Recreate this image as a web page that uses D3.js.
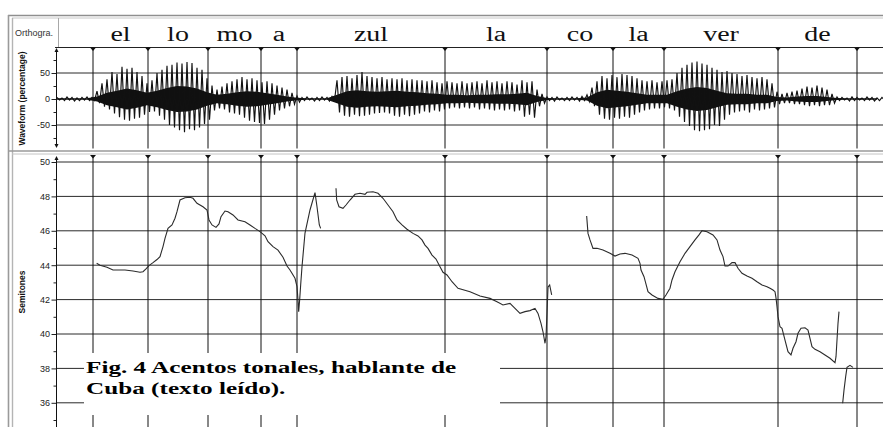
<!DOCTYPE html>
<html>
<head>
<meta charset="utf-8">
<script src="https://cdn.jsdelivr.net/npm/d3@7"></script>
<style>
  html, body { margin: 0; padding: 0; background: #ffffff; }
  svg { display: block; }
</style>
</head>
<body>
<svg id="chart" width="883" height="427"></svg>
<script>
// ---- Orthographic tier: syllables and their boundaries (ms) ----
const syllables = ["el", "lo", "mo", "a", "zul", "la", "co", "la", "ver", "de"];
const boundariesMs = [108, 273, 453, 612, 720, 1164, 1470, 1668, 1821, 2163, 2400];

// ---- Axis ticks ----
const waveTicks = [50, 0, -50];
const waveMinorTicks = [75, 25, -25, -75];
const waveGrid = [50, -50];
const pitchTicks = [50, 48, 46, 44, 42, 40, 38, 36];
const pitchMinorTicks = [49, 47, 45, 43, 41, 39, 37, 35];

// ---- Waveform (percentage): positive / negative peaks every 15 ms ----
const waveStepMs = 15;
const wavePeakHi = [
  3, 2, 4, 3, 2, 3, 4, 3,
  15, 30, 38, 52, 48, 62, 58, 60,
  52, 44, 30, 36, 50, 56, 64, 66,
  70, 68, 71, 69, 60, 56, 40, 26,
  18, 24, 30, 34, 38, 42, 38, 40,
  36, 32, 34, 30, 26, 22, 18, 12,
  6, 3, 4, 2, 3, 4, 3, 5,
  36, 42, 44, 40, 46, 52, 44, 42,
  40, 42, 38, 40, 38, 40, 36, 38,
  36, 36, 34, 36, 32, 30, 34, 32,
  30, 34, 30, 32, 34, 30, 36, 32,
  34, 30, 34, 32, 28, 36, 32, 34,
  18, 10, 4, 3, 4, 2, 3, 4,
  3, 5, 8, 22, 34, 44, 40, 46,
  42, 48, 46, 44, 40, 36, 34, 36,
  32, 34, 36, 38, 50, 60, 66, 70,
  72, 68, 66, 60, 56, 52, 54, 50,
  48, 44, 46, 42, 40, 42, 38, 30,
  14, 10, 12, 14, 16, 20, 24, 22,
  26, 22, 18, 10, 4, 3, 2, 4,
  3, 2, 4, 3, 2, 3
];
const wavePeakLo = [
  -2, -3, -2, -4, -3, -2, -3, -3,
  -8, -15, -20, -28, -35, -40, -42, -38,
  -36, -30, -25, -24, -32, -40, -50, -55,
  -60, -64, -58, -60, -55, -48, -40, -22,
  -18, -20, -26, -28, -30, -36, -42, -44,
  -46, -48, -40, -30, -22, -18, -14, -10,
  -6, -3, -2, -4, -3, -2, -4, -3,
  -26, -32, -34, -30, -33, -32, -30, -28,
  -27, -26, -28, -32, -34, -30, -33, -30,
  -28, -24, -26, -22, -24, -20, -18, -16,
  -18, -16, -18, -16, -20, -18, -20, -22,
  -20, -22, -20, -24, -22, -34, -30, -36,
  -14, -8, -3, -4, -2, -3, -3, -2,
  -4, -3, -5, -14, -30, -38, -40, -36,
  -38, -34, -36, -30, -26, -22, -20, -18,
  -18, -16, -18, -22, -34, -44, -52, -60,
  -62, -60, -58, -50, -52, -40, -30, -26,
  -24, -22, -26, -20, -22, -20, -18, -16,
  -10, -8, -8, -10, -10, -12, -14, -12,
  -14, -12, -12, -8, -3, -2, -4, -3,
  -2, -3, -2, -4, -3, -2
];
// dense core of the signal (symmetric amplitude) every 30 ms
const waveCoreStepMs = 30;
const waveCore = [
  1.5, 1.5, 1.5, 1.5,
  5, 12, 16, 20, 17, 12, 16, 21, 25, 24, 20, 13, 8, 10, 13, 15, 14, 11, 8, 5, 2.5,
  1.5, 1.5, 1.5,
  8, 15, 17, 15, 14, 15, 16, 14, 13, 11, 10, 8, 8, 7, 8, 8, 9, 9, 10, 12, 6, 2,
  1.5, 1.5, 1.5,
  3, 13, 18, 16, 14, 11, 8, 8, 8, 15, 20, 23, 21, 16, 11, 10, 10, 8, 8, 4, 3, 5, 6, 6, 4, 2,
  1.5, 1.5, 1.5, 1.5
];

// ---- F0 contour in semitones: [time ms, semitones] per voiced stretch ----
const pitchSeg1 = [[119,44.11],[129,44.0],[150,43.88],[168,43.72],[204,43.72],[228,43.66],[249,43.59],[258,43.62],[267,43.78],[276,43.98],[288,44.15],[300,44.33],[309,44.5],[318,45.08],[324,45.56],[333,46.14],[345,46.34],[354,46.73],[360,47.11],[369,47.79],[384,47.92],[399,47.95],[408,47.89],[420,47.6],[438,47.4],[450,47.21],[456,46.63],[465,46.34],[477,46.2],[486,46.4],[492,46.82],[504,47.15],[513,47.11],[528,46.92],[543,46.63],[564,46.53],[579,46.34],[594,46.14],[609,45.95],[624,45.71],[633,45.37],[648,45.08],[663,44.88],[678,44.46],[690,43.95],[699,43.72],[714,43.24],[720,42.75],[723,41.98],[725,41.3],[728,42.0],[731,42.85],[735,43.91],[744,45.87],[759,47.21],[774,48.22],[780,47.4],[787,46.34],[791,46.14]];
const pitchSeg2 = [[837,48.47],[839,47.79],[846,47.4],[858,47.31],[867,47.5],[879,47.79],[894,48.12],[909,48.18],[924,48.12],[930,48.24],[948,48.27],[963,48.18],[978,47.89],[993,47.5],[1008,47.11],[1020,46.63],[1035,46.34],[1050,46.09],[1068,45.85],[1083,45.7],[1095,45.47],[1104,45.17],[1113,44.98],[1125,44.59],[1137,44.36],[1149,43.91],[1158,43.59],[1170,43.43],[1185,43.04],[1203,42.66],[1239,42.46],[1269,42.21],[1299,42.07],[1320,41.88],[1338,41.69],[1359,41.78],[1374,41.49],[1389,41.2],[1404,41.3],[1419,41.36],[1434,41.49],[1443,41.2],[1452,40.62],[1458,40.13],[1464,39.46],[1467,39.84],[1470,41.2],[1473,42.73],[1478,42.85],[1484,42.27]];
const pitchSeg3 = [[1589,46.86],[1593,45.85],[1599,45.47],[1608,44.98],[1620,44.98],[1638,44.88],[1659,44.69],[1674,44.53],[1689,44.65],[1704,44.69],[1725,44.59],[1743,44.4],[1749,44.11],[1752,43.72],[1761,43.33],[1767,42.9],[1773,42.46],[1785,42.27],[1803,42.07],[1818,42.02],[1827,42.27],[1839,42.66],[1845,43.14],[1854,43.62],[1869,44.2],[1884,44.69],[1899,45.08],[1914,45.47],[1926,45.76],[1935,46.01],[1950,45.95],[1968,45.76],[1980,45.47],[1989,44.88],[1998,44.5],[2004,43.95],[2013,43.95],[2025,44.15],[2034,44.15],[2043,43.82],[2055,43.53],[2070,43.37],[2085,43.24],[2100,43.04],[2115,42.85],[2130,42.75],[2139,42.66],[2148,42.56],[2154,42.46],[2157,42.1],[2160,41.59],[2163,41.01],[2169,40.42],[2175,40.33],[2184,39.65],[2193,38.97],[2202,38.78],[2208,39.17],[2217,39.55],[2223,40.04],[2232,40.33],[2244,40.36],[2253,40.23],[2259,39.75],[2265,39.26],[2274,39.11],[2289,38.97],[2304,38.78],[2319,38.59],[2334,38.33],[2337,38.68],[2340,39.65],[2343,40.62],[2346,41.3]];
const pitchSeg4 = [[2357,35.97],[2361,36.74],[2366,37.52],[2370,38.06],[2379,38.18],[2388,38.06]];

const captionLines = ["Fig. 4 Acentos tonales, hablante de", "Cuba (texto leído)."];

// ---- Scales ----
const x = d3.scaleLinear().domain([0, 2478]).range([57, 883]);
const yWave = d3.scaleLinear().domain([-95, 100]).range([148.4, 47]);
const yPitch = d3.scaleLinear().domain([36, 50]).range([402.8, 162]);

const svg = d3.select("#chart");
const SANS = "'Liberation Sans', Arial, Helvetica, sans-serif";
const SERIF = "'Liberation Serif', 'Times New Roman', Times, serif";

svg.append("rect").attr("width", 883).attr("height", 427).attr("fill", "#fff");

// ---- Window frame ----
const frame = svg.append("g").attr("fill", "none");
frame.append("line").attr("x1", 8).attr("x2", 883).attr("y1", 15.5).attr("y2", 15.5).attr("stroke", "#8f8f8f").attr("stroke-width", 1.6);
frame.append("line").attr("x1", 12).attr("x2", 883).attr("y1", 18).attr("y2", 18).attr("stroke", "#c8c8c8").attr("stroke-width", 1);
frame.append("line").attr("x1", 8.5).attr("x2", 8.5).attr("y1", 15).attr("y2", 427).attr("stroke", "#9a9a9a").attr("stroke-width", 1.6);
frame.append("line").attr("x1", 12.5).attr("x2", 12.5).attr("y1", 18).attr("y2", 427).attr("stroke", "#b4b4b4").attr("stroke-width", 1.4);
frame.append("line").attr("x1", 8).attr("x2", 883).attr("y1", 151).attr("y2", 151).attr("stroke", "#9a9a9a").attr("stroke-width", 1.6);
frame.append("line").attr("x1", 12).attr("x2", 883).attr("y1", 154).attr("y2", 154).attr("stroke", "#c4c4c4").attr("stroke-width", 1);
frame.append("line").attr("x1", 58.5).attr("x2", 58.5).attr("y1", 18).attr("y2", 47).attr("stroke", "#a8a8a8").attr("stroke-width", 1);
frame.append("line").attr("x1", 55).attr("x2", 883).attr("y1", 47.5).attr("y2", 47.5).attr("stroke", "#222").attr("stroke-width", 1);

// ---- Tier label and syllables ----
svg.append("text").attr("x", 15).attr("y", 36)
  .attr("font-family", SANS).attr("font-size", 9).attr("fill", "#333")
  .text("Orthogra.");

const sylls = syllables.map((s, i) => ({ s, mid: (boundariesMs[i] + boundariesMs[i + 1]) / 2 }));
svg.append("g").selectAll("text").data(sylls).join("text")
  .attr("transform", d => `translate(${x(d.mid)},40.5) scale(1.4,1)`)
  .attr("text-anchor", "middle")
  .attr("font-family", SERIF).attr("font-size", 20).attr("fill", "#111")
  .text(d => d.s);

// ---- Grid lines ----
const grid = svg.append("g").attr("stroke", "#2a2a2a").attr("stroke-width", 1);
grid.selectAll(".gw").data(waveGrid).join("line")
  .attr("x1", 57).attr("x2", 883).attr("y1", d => yWave(d)).attr("y2", d => yWave(d));
grid.selectAll(".gp").data(pitchTicks).join("line")
  .attr("x1", 57).attr("x2", 883).attr("y1", d => yPitch(d)).attr("y2", d => yPitch(d));

// ---- Segment boundaries in both panels ----
const bnd = svg.append("g").attr("stroke", "#111").attr("stroke-width", 1);
bnd.selectAll(".bw").data(boundariesMs).join("line")
  .attr("x1", d => x(d)).attr("x2", d => x(d)).attr("y1", 47.5).attr("y2", 148.5);
bnd.selectAll(".bp").data(boundariesMs).join("line")
  .attr("x1", d => x(d)).attr("x2", d => x(d)).attr("y1", 155).attr("y2", 427);
const tri = (cx, y) => `M${cx - 3},${y} L${cx + 3},${y} L${cx},${y + 3.5} Z`;
svg.append("g").attr("fill", "#111").selectAll("path")
  .data(boundariesMs.flatMap(b => [[b, 47.5], [b, 155]])).join("path")
  .attr("d", d => tri(x(d[0]), d[1]));

// ---- Waveform ----
svg.append("defs").append("clipPath").attr("id", "waveClip")
  .append("rect").attr("x", 57).attr("y", 48).attr("width", 826).attr("height", 100);
const waveG = svg.append("g").attr("clip-path", "url(#waveClip)");
waveG.append("path")
  .datum(waveCore.map((c, j) => [j * waveCoreStepMs, c]))
  .attr("fill", "#111")
  .attr("d", d3.area().x(d => x(d[0])).y0(d => yWave(-d[1])).y1(d => yWave(d[1])));
const wavePts = wavePeakHi.flatMap((h, i) => [
  [i * waveStepMs, h],
  [i * waveStepMs + waveStepMs / 2, wavePeakLo[i]]
]);
waveG.append("path").datum(wavePts)
  .attr("fill", "none").attr("stroke", "#111").attr("stroke-width", 1.15)
  .attr("d", d3.line().x(d => x(d[0])).y(d => yWave(d[1])));

// ---- Caption box ----
svg.append("rect").attr("x", 84).attr("y", 353).attr("width", 416).attr("height", 62).attr("fill", "#fff");
svg.append("g").selectAll("text").data(captionLines).join("text")
  .attr("transform", (d, i) => `translate(86,${373 + i * 21}) scale(1.44,1)`)
  .attr("font-family", SERIF).attr("font-weight", "bold").attr("font-size", 17.5).attr("fill", "#000")
  .text(d => d);

// ---- F0 contour ----
const pitchLine = d3.line().x(d => x(d[0])).y(d => yPitch(d[1]));
svg.append("g").attr("fill", "none").attr("stroke", "#2b2b2b").attr("stroke-width", 1.1)
  .selectAll("path").data([pitchSeg1, pitchSeg2, pitchSeg3, pitchSeg4]).join("path")
  .attr("d", pitchLine);

// ---- Axes ----
const plain = d => String(d);
function styleAxis(g) {
  g.select(".domain").remove();
  g.selectAll("text").attr("font-family", SANS).attr("font-size", 9).attr("fill", "#222");
  g.selectAll("line").attr("stroke", "#222");
}
svg.append("g").attr("transform", "translate(56.5,0)")
  .call(d3.axisLeft(yWave).tickValues(waveTicks).tickSize(5).tickPadding(1.5).tickFormat(plain)).call(styleAxis);
svg.append("g").attr("transform", "translate(56.5,0)")
  .call(d3.axisLeft(yWave).tickValues(waveMinorTicks).tickSize(3).tickFormat("")).call(styleAxis);
svg.append("g").attr("transform", "translate(56.5,0)")
  .call(d3.axisLeft(yPitch).tickValues(pitchTicks).tickSize(5).tickPadding(1.5).tickFormat(plain)).call(styleAxis);
svg.append("g").attr("transform", "translate(56.5,0)")
  .call(d3.axisLeft(yPitch).tickValues(pitchMinorTicks).tickSize(3).tickFormat("")).call(styleAxis);

const axisLines = svg.append("g").attr("stroke", "#111").attr("stroke-width", 1);
axisLines.append("line").attr("x1", 56.5).attr("x2", 56.5).attr("y1", 49).attr("y2", 146.5);
axisLines.append("line").attr("x1", 56.5).attr("x2", 56.5).attr("y1", 157).attr("y2", 427);
const arrows = svg.append("g").attr("fill", "#111");
arrows.append("path").attr("d", "M54.5,52 L58.5,52 L56.5,48 Z");
arrows.append("path").attr("d", "M54.5,144 L58.5,144 L56.5,148 Z");
arrows.append("path").attr("d", "M54.5,160 L58.5,160 L56.5,156 Z");

// ---- Panel titles ----
svg.append("text").attr("transform", "translate(25,98.5) rotate(-90)")
  .attr("text-anchor", "middle").attr("font-family", SANS).attr("font-weight", "bold")
  .attr("font-size", 8.5).attr("fill", "#111").text("Waveform (percentage)");
svg.append("text").attr("transform", "translate(24.5,292) rotate(-90)")
  .attr("text-anchor", "middle").attr("font-family", SANS).attr("font-weight", "bold")
  .attr("font-size", 8.5).attr("fill", "#111").text("Semitones");
</script>
</body>
</html>
